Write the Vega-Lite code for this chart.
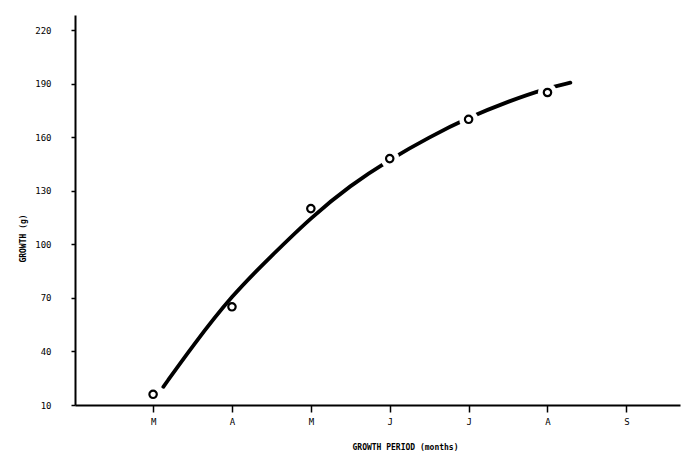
{
  "$schema": "https://vega.github.io/schema/vega-lite/v6.json",
  "autosize": "none",
  "width": 605,
  "height": 390,
  "padding": {"left": 75, "top": 15, "right": 20, "bottom": 52},
  "background": "white",
  "config": {
    "view": {"stroke": null},
    "font": "DejaVu Sans Mono",
    "axis": {
      "domainColor": "black", "domainWidth": 2, "tickColor": "black", "tickWidth": 1.5,
      "labelColor": "black", "titleColor": "black", "grid": false,
      "labelFont": "DejaVu Sans Mono", "titleFont": "DejaVu Sans Mono"
    }
  },
  "datasets": {
    "obs": [
      {"month": 0, "growth": 16},
      {"month": 1, "growth": 65},
      {"month": 2, "growth": 120},
      {"month": 3, "growth": 148},
      {"month": 4, "growth": 170},
      {"month": 5, "growth": 185}
    ],
    "curve": [
      {"month": 0.13, "growth": 20.2},
      {"month": 0.5, "growth": 43},
      {"month": 1.0, "growth": 71.5},
      {"month": 1.5, "growth": 93.5},
      {"month": 2.0, "growth": 115},
      {"month": 2.5, "growth": 133},
      {"month": 3.0, "growth": 147.5},
      {"month": 3.5, "growth": 160},
      {"month": 4.0, "growth": 171},
      {"month": 4.5, "growth": 180},
      {"month": 5.0, "growth": 187.5},
      {"month": 5.29, "growth": 190.5}
    ]
  },
  "layer": [
    {
      "data": {"name": "curve"},
      "mark": {"type": "line", "color": "black", "strokeWidth": 3.8, "interpolate": "basis", "strokeCap": "round"},
      "encoding": {
        "x": {
          "field": "month", "type": "quantitative",
          "scale": {"domain": [-0.99, 6.68], "nice": false, "zero": false},
          "axis": {
            "values": [0, 1, 2, 3, 4, 5, 6],
            "labelExpr": "['M','A','M','J','J','A','S'][datum.value]",
            "tickSize": 7, "labelPadding": 5, "labelFontSize": 9,
            "title": "GROWTH PERIOD (months)", "titleFontSize": 8, "titleFontWeight": "bold",
            "titleX": 330, "titleY": 38, "titleAlign": "center"
          }
        },
        "y": {
          "field": "growth", "type": "quantitative",
          "scale": {"domain": [10, 228.4], "nice": false, "zero": false},
          "axis": {
            "values": [10, 40, 70, 100, 130, 160, 190, 220],
            "tickSize": 4, "labelPadding": 20, "labelFontSize": 9,
            "title": "GROWTH (g)", "titleFontSize": 8, "titleFontWeight": "bold",
            "titleAngle": 270, "titleX": -52, "titleY": 223, "titleAlign": "center", "titleBaseline": "middle"
          }
        }
      }
    },
    {
      "data": {"name": "obs"},
      "transform": [{"filter": "datum.month >= 3"}],
      "mark": {"type": "point", "shape": "circle", "filled": true, "color": "white", "size": 360, "opacity": 1},
      "encoding": {
        "x": {"field": "month", "type": "quantitative"},
        "y": {"field": "growth", "type": "quantitative"}
      }
    },
    {
      "data": {"name": "obs"},
      "mark": {"type": "point", "shape": "circle", "filled": false, "color": "black", "strokeWidth": 2.2, "size": 55, "opacity": 1},
      "encoding": {
        "x": {"field": "month", "type": "quantitative"},
        "y": {"field": "growth", "type": "quantitative"}
      }
    }
  ]
}
